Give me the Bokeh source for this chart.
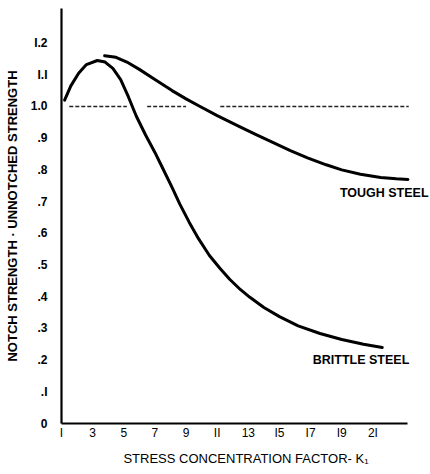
from bokeh.plotting import figure
from bokeh.models import FixedTicker, Range1d, Label
from bokeh.embed import file_html
from bokeh.resources import INLINE

# ---- data ----
brittle_x = [1.2, 1.6, 2.1, 2.6, 3.3, 3.8, 4.3, 4.8, 5.3, 5.8, 6.4, 7.0, 7.5, 8.1, 8.6,
             9.2, 9.8, 10.5, 11.2, 11.8, 12.5, 13.1, 14.0, 15.0, 16.2, 17.6, 19.0, 20.4, 21.6]
brittle_y = [1.02, 1.065, 1.105, 1.132, 1.145, 1.14, 1.12, 1.085, 1.03, 0.97, 0.91, 0.855,
             0.805, 0.745, 0.692, 0.635, 0.583, 0.530, 0.488, 0.455, 0.422, 0.398, 0.366,
             0.337, 0.308, 0.284, 0.265, 0.250, 0.240]

tough_x = [3.77, 4.5, 5.2, 6.0, 7.0, 8.1, 9.0, 9.9, 11.0, 12.4, 13.5, 14.6, 15.7, 16.8,
           18.0, 19.0, 20.2, 21.5, 22.5, 23.25]
tough_y = [1.16, 1.155, 1.14, 1.117, 1.085, 1.05, 1.024, 1.0, 0.971, 0.937, 0.911, 0.886,
           0.861, 0.838, 0.816, 0.800, 0.786, 0.776, 0.772, 0.770]

# reference line at 1.0 (broken into three dashed pieces)
ref_level = 1.0
ref_start = [1.5, 6.5, 11.2]
ref_end = [5.2, 9.0, 23.3]

x_ticks = [1, 3, 5, 7, 9, 11, 13, 15, 17, 19, 21]
x_tick_labels = ["I", "3", "5", "7", "9", "II", "13", "I5", "I7", "I9", "2I"]
y_ticks = [0, 0.1, 0.2, 0.3, 0.4, 0.5, 0.6, 0.7, 0.8, 0.9, 1.0, 1.1, 1.2]
y_tick_labels = ["0", ".I", ".2", ".3", ".4", ".5", ".6", ".7", ".8", ".9", "1.0", "I.I", "I.2"]

series_names = ["TOUGH STEEL", "BRITTLE STEEL"]
name_x = [18.88, 17.14]
name_y = [0.726, 0.199]

x_title = "STRESS CONCENTRATION FACTOR- K\u2081"
y_title = "NOTCH STRENGTH \u00b7 UNNOTCHED STRENGTH"

# ---- figure ----
p = figure(width=430, height=474, output_backend="svg", toolbar_location=None,
           x_range=Range1d(1, 24.7), y_range=Range1d(0, 1.309),
           min_border_left=61, min_border_right=0, min_border_top=8, min_border_bottom=51)
p.outline_line_color = None
p.xgrid.visible = False
p.ygrid.visible = False
p.background_fill_color = "white"
p.border_fill_color = "white"

# curves
p.line(brittle_x, brittle_y, line_color="black", line_width=3, line_cap="round",
       line_join="round")
p.line(tough_x, tough_y, line_color="black", line_width=3, line_cap="round",
       line_join="round")

# dashed reference line
p.segment(x0=ref_start, y0=[ref_level] * len(ref_start), x1=ref_end,
          y1=[ref_level] * len(ref_end), line_color="#222222", line_width=1.6,
          line_dash="4 2")

# series labels
for name, lx, ly in zip(series_names, name_x, name_y):
    p.add_layout(Label(x=lx, y=ly, text=name, text_font="Liberation Sans",
                       text_font_style="bold", text_font_size="12.5px",
                       text_baseline="middle", text_align="left", text_color="black"))

# axes
xa = p.xaxis[0]
xa.bounds = (1, 23.25)
xa.ticker = FixedTicker(ticks=x_ticks)
xa.major_label_overrides = dict(zip(x_ticks, x_tick_labels))
xa.major_tick_line_color = None
xa.minor_tick_line_color = None
xa.axis_line_width = 2.2
xa.axis_line_color = "black"
xa.major_label_text_font = "Liberation Sans"
xa.major_label_text_font_size = "12px"
xa.major_label_text_color = "black"
xa.major_label_standoff = -4
xa.axis_label = x_title
xa.axis_label_text_font = "Liberation Sans"
xa.axis_label_text_font_style = "normal"
xa.axis_label_text_font_size = "13px"
xa.axis_label_text_color = "black"
xa.axis_label_standoff = 8

ya = p.yaxis[0]
ya.ticker = FixedTicker(ticks=y_ticks)
ya.major_label_overrides = dict(zip(y_ticks, y_tick_labels))
ya.major_tick_line_color = None
ya.minor_tick_line_color = None
ya.axis_line_width = 2.2
ya.axis_line_color = "black"
ya.major_label_text_font = "Liberation Sans"
ya.major_label_text_font_style = "bold"
ya.major_label_text_font_size = "12px"
ya.major_label_text_color = "black"
ya.major_label_standoff = 8
ya.axis_label = y_title
ya.axis_label_text_font = "Liberation Sans"
ya.axis_label_text_font_style = "bold"
ya.axis_label_text_font_size = "13px"
ya.axis_label_text_color = "black"
ya.axis_label_standoff = 8

open("out.html", "w").write(file_html(p, INLINE))
